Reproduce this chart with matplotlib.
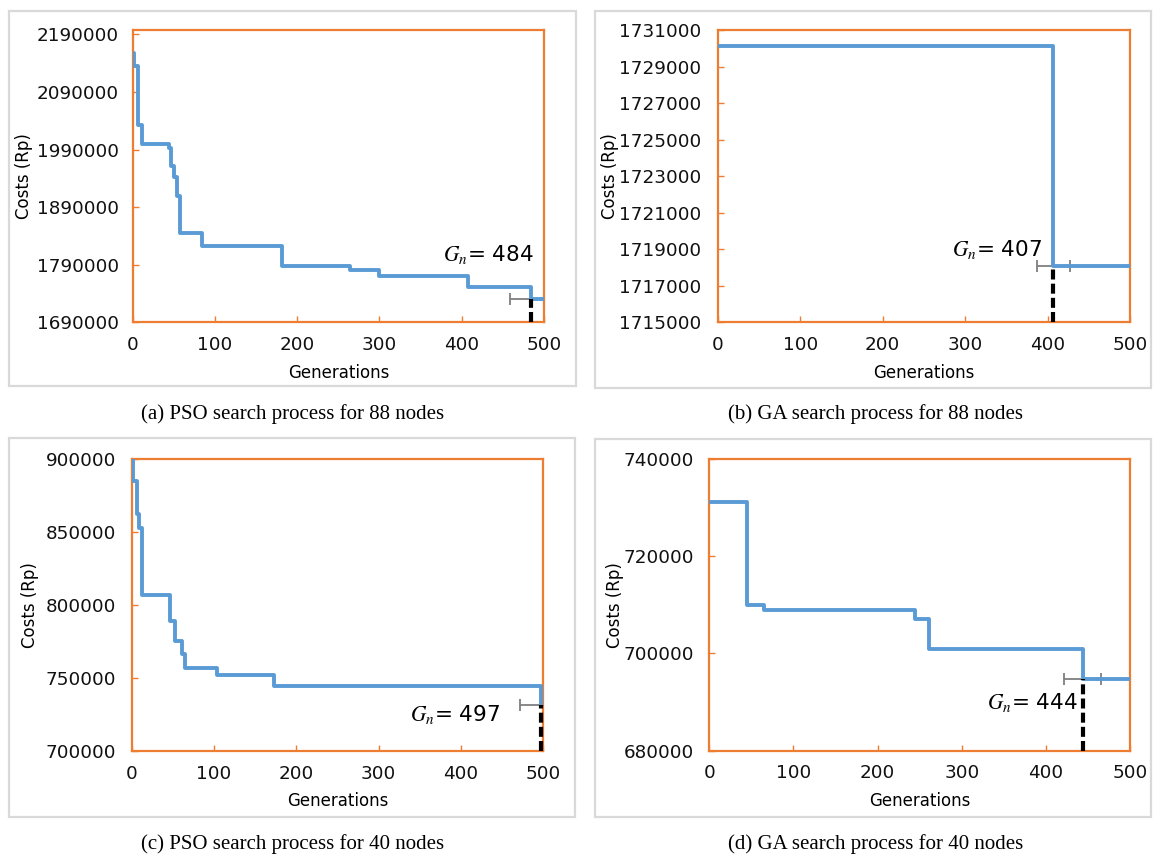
import matplotlib
matplotlib.use("Agg")
import matplotlib.pyplot as plt
from matplotlib.patches import Rectangle
from matplotlib.ticker import FuncFormatter

plt.rcParams['font.family'] = ['DejaVu Sans']
plt.rcParams['mathtext.fontset'] = 'stix'

# (a) PSO, 88 nodes
gens_a = [0, 2, 6, 11, 44, 47, 50, 54, 58, 84, 181, 264, 300, 408, 484, 500]
cost_a = [2158000, 2135000, 2033000, 1999000, 1993000, 1961000, 1943000, 1910000,
          1845000, 1822000, 1787000, 1781000, 1771000, 1751000, 1730000, 1730000]
# (b) GA, 88 nodes
gens_b = [0, 407, 500]
cost_b = [1730100, 1718100, 1718100]
# (c) PSO, 40 nodes
gens_c = [0, 1, 7, 9, 13, 46, 53, 61, 65, 104, 173, 497, 500]
cost_c = [905000, 885000, 862000, 853000, 807000, 789000, 775000, 766000,
          757000, 752000, 744500, 731000, 731000]
# (d) GA, 40 nodes
gens_d = [0, 45, 65, 244, 261, 444, 500]
cost_d = [731200, 710000, 708900, 707100, 700900, 694700, 694700]

gn = [484, 407, 497, 444]
gn_err = [25, 20, 25, 22]
captions = ['(a) PSO search process for 88 nodes', '(b) GA search process for 88 nodes',
            '(c) PSO search process for 40 nodes', '(d) GA search process for 40 nodes']

W, H = 1156, 857
fig = plt.figure(figsize=(W / 100, H / 100), dpi=100)

blue = '#5B9BD5'
orange = '#ED7D31'


def px_axes(l, r, t, b):
    return fig.add_axes([l / W, 1 - b / H, (r - l) / W, (b - t) / H])


def frame(l, r, t, b):
    fig.add_artist(Rectangle((l / W, 1 - b / H), (r - l) / W, (b - t) / H,
                             transform=fig.transFigure, fill=False,
                             edgecolor='#d9d9d9', lw=1.6))


frame(9, 576, 11, 386)
frame(595, 1151, 11, 388)
frame(9, 575, 438, 817)
frame(595, 1151, 439, 817)

panels = [
    dict(box=(132.7, 544, 30, 322.3), g=gens_a, c=cost_a, ylim=(1690000, 2197500),
         yt=range(1690000, 2190001, 100000), ylx=-0.264, txt=(488, 1807000), ypad=10),
    dict(box=(717.7, 1130, 30, 322.3), g=gens_b, c=cost_b, ylim=(1715000, 1731000),
         yt=range(1715000, 1731001, 2000), ylx=-0.262, txt=(394, 1719000), ypad=12),
    dict(box=(131.7, 543.3, 459, 750.7), g=gens_c, c=cost_c, ylim=(700000, 900000),
         yt=range(700000, 900001, 50000), ylx=-0.248, txt=(448, 724500), ypad=11),
    dict(box=(709.3, 1130, 459, 750.5), g=gens_d, c=cost_d, ylim=(680000, 740000),
         yt=range(680000, 740001, 20000), ylx=-0.224, txt=(438, 689800), ypad=11),
]

for i, p in enumerate(panels):
    ax = px_axes(*p['box'])
    ax.plot(p['g'], p['c'], color=blue, lw=2.8, drawstyle='steps-post', zorder=3)
    ax.set_xlim(0, 500)
    ax.set_ylim(*p['ylim'])
    ax.set_xticks(range(0, 501, 100))
    ax.set_yticks(list(p['yt']))
    ax.yaxis.set_major_formatter(FuncFormatter(lambda v, pos: '%d' % round(v)))
    for s in ax.spines.values():
        s.set_color(orange)
        s.set_linewidth(1.6)
    ax.tick_params(direction='in', color=orange, length=4, width=1,
                   labelsize=13.2, labelcolor='#111111')
    ax.tick_params(axis='y', pad=p['ypad'])
    ax.tick_params(axis='x', pad=10)

    # value at G_n
    x0 = gn[i]
    y0 = [c for g, c in zip(p['g'], p['c']) if g <= x0][-1]
    ax.errorbar([x0], [y0], xerr=[gn_err[i]], fmt='none', ecolor='#7f7f7f',
                elinewidth=1.3, capsize=4, capthick=1.3, zorder=2)
    ax.plot([x0, x0], [p['ylim'][0], y0], color='black', lw=3,
            linestyle=(0, (2.4, 1.0)), zorder=4, clip_on=False)
    ax.text(p['txt'][0], p['txt'][1], r'$G_{n}$= %d' % x0, fontsize=15.5,
            ha='right', va='center', zorder=5)

    ax.set_xlabel('Generations', fontsize=12)
    ax.set_ylabel('Costs (Rp)', fontsize=12)
    ax.xaxis.set_label_coords(0.5, -0.172)
    ax.xaxis.label.set_va('center')
    ax.yaxis.set_label_coords(p['ylx'], 0.5)
    ax.yaxis.label.set_va('center')

cap_pos = [(293, 414), (876, 414), (293, 844), (876, 844)]
for (cx, cy), t in zip(cap_pos, captions):
    fig.text(cx / W, 1 - cy / H, t, ha='center', va='center',
             fontsize=15, family='Liberation Serif')

fig.savefig('out.png', dpi=100)
